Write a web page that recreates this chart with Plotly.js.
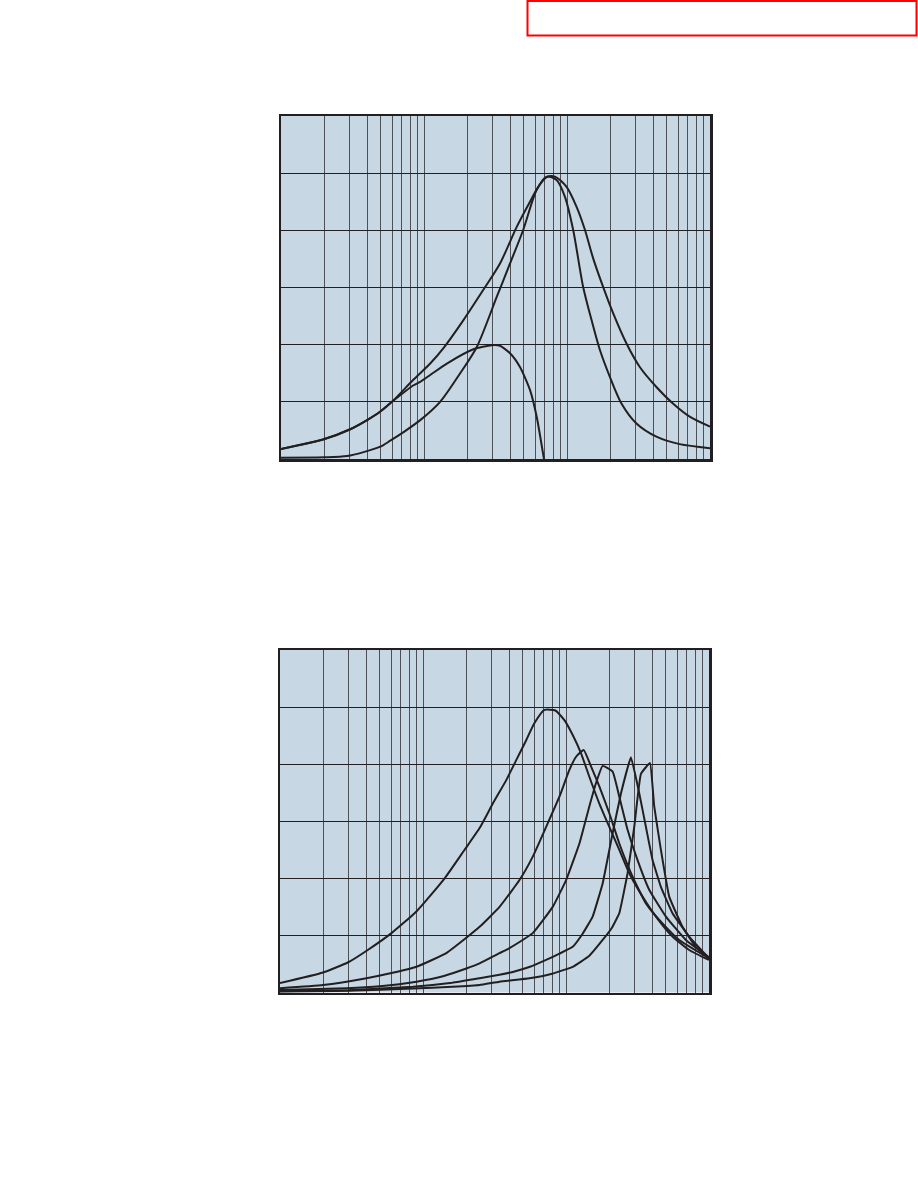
<!DOCTYPE html>
<html>
<head>
<meta charset="utf-8">
<script src="https://cdn.plot.ly/plotly-3.0.1.min.js"></script>
<style>
html,body{margin:0;padding:0;background:#fff;}
#chart{width:918px;height:1188px;}
</style>
</head>
<body>
<div id="chart"></div>
<script>
// ---- Data: top chart (frequency, relative level) ----
const topA_x = [10, 19.9, 30.5, 40.0, 49.5, 59.7, 84.5, 110.5, 136.8, 188.7, 260, 340, 445, 551, 630, 721, 823, 993, 1167, 1334, 1524, 1789, 2101, 2606, 3228, 4219, 5508, 7211, 10000];
const topA_y = [0.175, 0.345, 0.52, 0.68, 0.83, 1.00, 1.39, 1.67, 1.94, 2.43, 2.96, 3.42, 4.06, 4.50, 4.76, 4.93, 4.94, 4.76, 4.41, 4.01, 3.51, 3.01, 2.55, 2.02, 1.61, 1.26, 0.97, 0.74, 0.565];

const topB_x = [10, 20, 29.0, 37.8, 49.5, 58.1, 71.9, 94.1, 129.7, 179, 234, 323, 399.6, 494.6, 613.8, 721, 846, 966, 1104, 1297, 1485, 1697, 1991, 2403, 3060, 4219, 6138, 10000];
const topB_y = [0.023, 0.03, 0.052, 0.12, 0.215, 0.32, 0.47, 0.68, 1.00, 1.50, 1.96, 2.84, 3.42, 4.01, 4.71, 4.94, 4.88, 4.59, 4.01, 3.01, 2.43, 1.91, 1.44, 0.97, 0.62, 0.39, 0.26, 0.19];

const topC_x = [10, 19.9, 30.5, 40.0, 49.5, 59.7, 84.5, 94.1, 110.5, 144.5, 221.5, 297.6, 340, 399.6, 469, 551, 613.8, 690];
const topC_y = [0.175, 0.345, 0.52, 0.68, 0.83, 1.00, 1.29, 1.35, 1.47, 1.67, 1.92, 1.99, 1.98, 1.85, 1.61, 1.21, 0.74, 0.0];

// ---- Data: bottom chart ----
const bot1_x = [10, 20.0, 30.0, 41.1, 60.2, 89.9, 141.7, 195.4, 248.7, 307.9, 382, 448.6, 526.8, 601.9, 706.3, 843.4, 974.7, 1114, 1274, 1456, 1710, 2009, 2359, 2770, 3430, 4255, 5555, 7262, 10000];
const bot1_y = [0.166, 0.35, 0.53, 0.745, 1.04, 1.42, 2.00, 2.50, 2.88, 3.31, 3.72, 4.07, 4.42, 4.72, 4.95, 4.94, 4.77, 4.51, 4.19, 3.78, 3.31, 2.90, 2.50, 2.09, 1.68, 1.33, 0.98, 0.745, 0.57];

const bot2_x = [10, 20.0, 40.3, 60.2, 89.9, 145.6, 206, 248.7, 342.9, 473, 585.6, 726.1, 899.5, 1056, 1176, 1329, 1496, 1710, 2009, 2359, 2922, 3622, 4732, 6184, 10000];
const bot2_y = [0.074, 0.13, 0.25, 0.34, 0.45, 0.69, 0.98, 1.15, 1.50, 1.97, 2.38, 2.90, 3.43, 3.90, 4.13, 4.25, 3.96, 3.61, 3.14, 2.61, 2.03, 1.56, 1.21, 0.92, 0.60];

const bot3_x = [10, 29.2, 50, 89.9, 140, 200.9, 248.7, 342.9, 382, 470, 585.6, 807.5, 1002, 1241, 1456, 1622, 1804, 2118, 2359, 2696, 3165, 3819, 4995, 6887, 10000];
const bot3_y = [0.044, 0.074, 0.11, 0.19, 0.29, 0.42, 0.51, 0.69, 0.745, 0.88, 1.04, 1.50, 1.97, 2.61, 3.26, 3.67, 3.97, 3.87, 3.43, 2.85, 2.32, 1.80, 1.33, 0.92, 0.62];

const bot4_x = [10, 30, 85.1, 160, 248.7, 342.9, 424.6, 560, 726.1, 900, 1114, 1300, 1536, 1804, 2118, 2424, 2845, 3252, 3622, 4030, 4609, 5555, 7262, 10000];
const bot4_y = [0.02, 0.04, 0.10, 0.17, 0.25, 0.31, 0.36, 0.45, 0.57, 0.68, 0.80, 1.02, 1.33, 1.91, 2.79, 3.49, 4.12, 3.49, 2.90, 2.32, 1.85, 1.39, 0.98, 0.60];

const bot5_x = [10, 30, 85.1, 160, 248.7, 342.9, 555.4, 800, 1114, 1450, 1804, 2100, 2359, 2696, 3001, 3342, 3864, 4140, 4609, 5268, 6523, 8090, 10000];
const bot5_y = [0.01, 0.03, 0.07, 0.10, 0.13, 0.19, 0.25, 0.33, 0.45, 0.64, 0.92, 1.14, 1.39, 2.09, 2.90, 3.83, 4.02, 3.26, 2.50, 1.68, 1.15, 0.80, 0.60];

// grid tick values for log axis (1..9 per decade)
const gridTicks = [];
[10, 100, 1000].forEach(d => { for (let k = 1; k <= 9; k++) gridTicks.push(k * d); });
gridTicks.push(10000);
const yTicks = [0, 1, 2, 3, 4, 5, 6];

const ink = '#231f20';
function line(x, y, xa, ya, smooth) {
  return {x: x, y: y, xaxis: xa, yaxis: ya, type: 'scatter', mode: 'lines',
          line: {color: ink, width: 2, shape: 'spline', smoothing: smooth},
          hoverinfo: 'skip', showlegend: false};
}

const traces = [
  line(topA_x, topA_y, 'x', 'y', 0.8),
  line(topB_x, topB_y, 'x', 'y', 0.8),
  line(topC_x, topC_y, 'x', 'y', 0.6),
  line(bot1_x, bot1_y, 'x2', 'y2', 0.5),
  line(bot2_x, bot2_y, 'x2', 'y2', 0.4),
  line(bot3_x, bot3_y, 'x2', 'y2', 0.35),
  line(bot4_x, bot4_y, 'x2', 'y2', 0.3),
  line(bot5_x, bot5_y, 'x2', 'y2', 0.3)
];

const W = 918, H = 1188;
function xAxis(d, anchor) {
  return {type: 'log', range: [1, 4], domain: d, anchor: anchor,
          tickmode: 'array', tickvals: gridTicks, showticklabels: false, ticks: '',
          showgrid: true, gridcolor: '#4d4f55', gridwidth: 1, zeroline: false,
          showline: true, linecolor: ink, linewidth: 2.5, mirror: true, fixedrange: true};
}
function yAxis(d, anchor) {
  return {range: [0, 6], domain: d, anchor: anchor,
          tickmode: 'array', tickvals: yTicks, showticklabels: false, ticks: '',
          showgrid: true, gridcolor: ink, gridwidth: 1, zeroline: false,
          showline: true, linecolor: ink, linewidth: 2.5, mirror: true, fixedrange: true};
}

const layout = {
  width: W, height: H,
  margin: {l: 0, r: 0, t: 0, b: 0},
  paper_bgcolor: '#ffffff',
  plot_bgcolor: '#c7d8e4',
  showlegend: false,
  xaxis: xAxis([281 / W, 710 / W], 'y'),
  yaxis: yAxis([1 - 459 / H, 1 - 116 / H], 'x'),
  xaxis2: xAxis([280 / W, 709 / W], 'y2'),
  yaxis2: yAxis([1 - 992.5 / H, 1 - 650 / H], 'x2'),
  shapes: [
    {type: 'rect', xref: 'paper', yref: 'paper',
     x0: 527.5 / W, x1: 916.5 / W, y0: 1 - 35.5 / H, y1: 1 - 1 / H,
     line: {color: '#ff0000', width: 2}, fillcolor: 'rgba(0,0,0,0)'}
  ]
};

Plotly.newPlot('chart', traces, layout, {staticPlot: true, displayModeBar: false});
</script>
</body>
</html>
